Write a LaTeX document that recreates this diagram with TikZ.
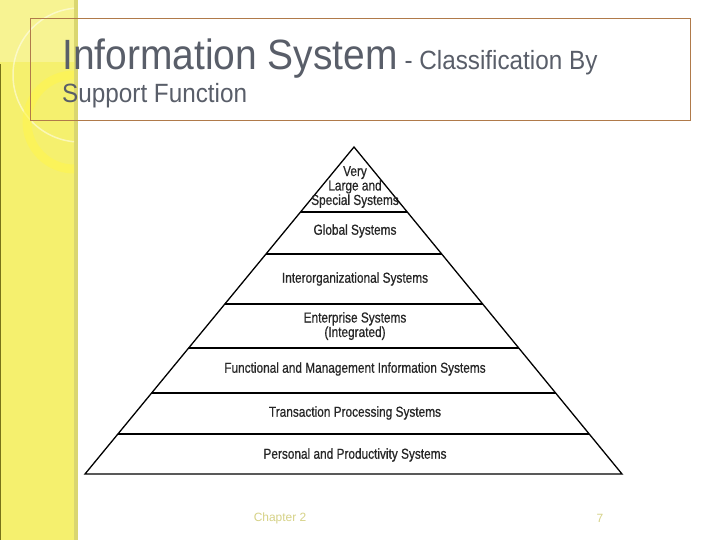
\documentclass[tikz,border=0pt]{standalone}
\usepackage{fontspec}
\setmainfont{Liberation Sans}
\newfontfamily\titlefont[FakeStretch=0.92]{Liberation Sans}
\newfontfamily\pyrfont[FakeStretch=0.82,FakeBold=0.6]{Liberation Sans}
\usepackage{xcolor}
\usepackage{tikz}
\usetikzlibrary{positioning,calc}
\definecolor{stripyel}{RGB}{245,240,110}
\definecolor{stripedge}{RGB}{218,214,112}
\definecolor{titlegray}{RGB}{89,94,105}
\definecolor{boxbrown}{RGB}{176,122,74}
\definecolor{footyel}{RGB}{214,210,135}
\tikzset{
  lvl/.style={font=\pyrfont\fontsize{14.5}{14.5}\selectfont,text=black!85,align=center,inner sep=0pt},
  tier/.style={line width=1.3pt,black},
  foot/.style={font=\fontsize{12}{12}\selectfont,text=footyel,inner sep=0pt},
}

\begin{document}
\begin{tikzpicture}[x=1bp,y=-1bp]
\useasboundingbox[fill=white] (0,0) rectangle (720,540);
% side strip
\fill[stripyel] (0,0) rectangle (78,540);
\fill[white,opacity=0.25] (0,0) rectangle (78,62);
\fill[stripedge] (74,0) rectangle (78,540);
\draw[olive!80!black,line width=1pt] (0.5,64) -- (0.5,540);
\begin{scope}
\clip (0,0) rectangle (74,540);
\draw[white,opacity=0.5,line width=1.5pt] (80,75) circle (67);
\draw[yellow!70!white,opacity=0.6,line width=9pt] (74,122) circle (47);
\end{scope}
% title
\draw[boxbrown,line width=0.9pt] (30,18) rectangle (690,120);
\node[anchor=base west,inner sep=0pt,text=titlegray] (title) at (62,70)
  {\titlefont\fontsize{42.5}{42.5}\selectfont Information System\fontsize{26.5}{26.5}\selectfont{} - Classification By};
\node[anchor=base west,inner sep=0pt,text=titlegray] (subtitle) at (62,103)
  {\titlefont\fontsize{26.5}{26.5}\selectfont Support Function};
% pyramid
\coordinate (apex) at (354,147);
\coordinate (bl) at (85,474);
\coordinate (br) at (622,474);
\draw[tier,line join=miter] (bl) -- (apex) -- (br) -- cycle;
\foreach \y in {212,254,304,348,393,434}
  \draw[tier] ($(apex)!{(\y-147)/327}!(bl)$) -- ($(apex)!{(\y-147)/327}!(br)$);
\node[lvl] (vlarge) at (355,187) {Very\\Large and\\Special Systems};
\node[lvl] (global) at (355,231) {Global Systems};
\node[lvl] (interorg) at (355,279) {Interorganizational Systems};
\node[lvl] (enterp) at (355,326) {Enterprise Systems\\(Integrated)};
\node[lvl] (funcmis) at (355,369) {Functional and Management Information Systems};
\node[lvl] (tps) at (355,413) {Transaction Processing Systems};
\node[lvl] (pps) at (355,455) {Personal and Productivity Systems};
% footer
\node[foot] (chap) at (280,518) {Chapter 2};
\node[foot] (pgno) at (600,518) {7};
\end{tikzpicture}
\end{document}
